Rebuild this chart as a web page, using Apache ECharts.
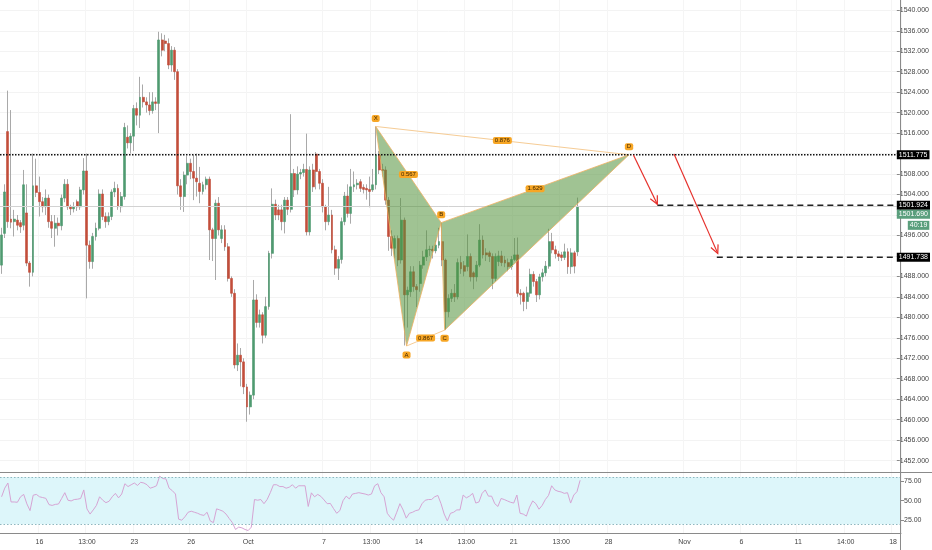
<!DOCTYPE html>
<html><head><meta charset="utf-8">
<script src="https://cdn.jsdelivr.net/npm/echarts@6/dist/echarts.min.js"></script>
<style>html,body{margin:0;padding:0;background:#fff}#c{width:932px;height:550px}</style>
</head><body><div id="c"></div>
<script>
// ---- data (4h candles) ----
const opens=[1490.2,1496.4,1516.3,1499.2,1498.7,1499.0,1498.5,1498.0,1500.4,1490.6,
1488.8,1505.7,1504.4,1502.6,1501.6,1503.3,1498.7,1497.4,1498.4,1497.9,
1503.3,1506.0,1501.6,1501.2,1502.6,1501.6,1504.9,1508.6,1494.1,1490.9,
1495.8,1497.4,1504.1,1499.7,1498.7,1499.7,1504.5,1505.2,1501.6,1503.6,
1515.2,1514.1,1515.4,1520.8,1519.5,1523.0,1522.1,1521.5,1520.4,1522.1,
1521.8,1534.2,1534.0,1533.5,1529.3,1532.2,1528.0,1505.7,1503.6,1507.8,
1510.1,1508.5,1507.2,1506.2,1504.6,1505.9,1507.0,1497.1,1495.4,1502.3,
1495.4,1497.1,1493.8,1487.6,1484.7,1470.7,1472.6,1471.3,1466.4,1462.5,
1464.8,1483.4,1479.0,1480.5,1476.5,1482.1,1492.5,1502.1,1501.0,1501.0,
1498.7,1502.9,1501.1,1508.1,1504.9,1508.0,1508.3,1508.9,1496.7,1508.8,
1511.9,1508.5,1506.2,1501.6,1498.7,1500.0,1493.2,1489.6,1491.3,1498.7,
1503.7,1500.3,1505.5,1505.9,1506.5,1505.4,1505.2,1505.0,1504.9,1505.9,
1511.7,1508.9,1508.8,1502.9,1495.8,1493.5,1495.4,1491.2,1499.0,1484.4,
1485.0,1488.9,1486.0,1486.6,1490.2,1491.8,1493.2,1493.3,1493.0,1494.1,
1494.8,1491.2,1481.1,1483.7,1484.7,1484.0,1490.7,1490.1,1489.9,1491.9,
1488.7,1487.9,1490.2,1495.1,1492.6,1492.6,1491.9,1487.6,1490.9,1492.0,
1491.2,1490.7,1489.9,1491.3,1492.2,1484.7,1484.7,1483.1,1484.7,1488.4,
1487.0,1484.4,1487.9,1488.7,1490.0,1494.8,1493.2,1492.4,1492.2,1491.7,
1492.8,1489.9,1492.6,1492.8];
const closes=[1496.1,1504.5,1498.7,1498.6,1499.2,1498.0,1497.7,1505.9,1490.6,1488.8,
1505.7,1504.4,1502.6,1501.6,1503.3,1498.7,1497.4,1498.4,1497.9,1503.3,
1506.0,1501.6,1501.2,1501.6,1501.6,1504.9,1508.6,1494.1,1490.9,1495.8,
1497.4,1504.1,1499.7,1498.7,1499.7,1504.5,1505.2,1501.6,1503.6,1517.1,
1514.1,1515.4,1520.8,1519.5,1523.0,1522.1,1521.5,1520.4,1522.1,1521.8,
1534.2,1532.2,1533.5,1529.3,1532.2,1528.0,1505.7,1503.6,1507.8,1510.1,
1508.5,1507.2,1506.5,1504.6,1505.9,1507.0,1497.1,1495.4,1502.3,1497.1,
1497.1,1493.8,1487.6,1484.7,1470.7,1472.6,1471.3,1466.4,1462.5,1464.8,
1483.4,1479.0,1480.5,1476.5,1482.1,1492.5,1502.1,1500.0,1500.0,1498.7,
1502.9,1501.1,1508.1,1504.9,1508.0,1508.3,1508.9,1496.7,1508.8,1505.5,
1508.5,1506.2,1501.6,1498.7,1500.0,1493.2,1489.6,1491.3,1498.7,1503.7,
1500.3,1505.5,1505.9,1506.2,1505.2,1505.0,1504.9,1504.6,1505.9,1511.7,
1508.8,1508.7,1502.9,1495.8,1493.5,1495.4,1491.2,1499.0,1484.4,1485.3,
1488.9,1486.0,1485.4,1490.2,1491.8,1493.2,1493.3,1493.0,1494.1,1494.8,
1491.2,1481.1,1483.7,1484.7,1484.0,1490.7,1489.5,1489.0,1491.9,1487.9,
1487.9,1490.2,1495.1,1492.2,1492.2,1491.9,1487.6,1491.9,1492.0,1490.7,
1490.6,1489.9,1491.3,1492.2,1484.7,1484.4,1483.1,1484.8,1488.4,1487.0,
1484.4,1487.9,1488.7,1490.0,1494.8,1493.2,1492.4,1491.9,1491.7,1492.8,
1489.9,1492.6,1490.0,1501.69];
const lows=[1488.5,1495.5,1497.5,1497.4,1495.8,1497.0,1496.5,1497.0,1490.0,1486.0,
1488.0,1503.5,1499.7,1500.5,1500.0,1497.5,1495.5,1493.8,1496.0,1497.0,
1502.5,1501.0,1500.0,1500.5,1500.8,1501.0,1504.0,1483.7,1489.5,1489.5,
1495.0,1497.0,1499.0,1497.5,1498.0,1499.0,1503.5,1501.0,1500.5,1503.0,
1513.0,1512.0,1512.5,1517.5,1517.0,1521.0,1520.0,1519.5,1519.8,1520.5,
1516.0,1531.0,1532.0,1528.5,1528.0,1526.4,1504.0,1501.0,1500.6,1506.0,
1507.0,1502.9,1503.6,1502.3,1504.0,1505.0,1491.2,1491.0,1487.3,1496.0,
1494.5,1493.0,1487.0,1484.0,1470.0,1469.5,1466.5,1465.0,1459.6,1461.0,
1464.0,1478.0,1478.0,1474.9,1476.0,1481.5,1491.5,1499.0,1499.0,1497.0,
1496.4,1500.0,1500.5,1503.5,1504.0,1507.0,1507.5,1496.0,1496.0,1504.5,
1505.0,1505.0,1500.5,1497.0,1498.0,1492.5,1488.3,1487.3,1490.5,1498.0,
1499.5,1498.3,1504.5,1505.0,1504.5,1504.2,1503.0,1501.5,1504.5,1505.0,
1508.0,1507.5,1502.0,1493.0,1492.0,1491.5,1490.0,1490.5,1474.5,1478.0,
1484.0,1485.0,1482.0,1485.0,1489.5,1491.0,1492.0,1491.5,1492.5,1493.5,
1490.0,1477.5,1480.0,1483.0,1483.0,1483.5,1488.5,1488.0,1489.0,1487.0,
1485.5,1487.0,1489.8,1491.5,1491.0,1490.8,1485.5,1487.0,1490.0,1490.0,
1489.8,1489.0,1489.3,1491.0,1484.0,1482.5,1481.2,1481.6,1484.0,1486.0,
1483.0,1483.5,1487.0,1488.0,1489.5,1492.5,1491.5,1491.0,1491.0,1491.2,
1488.5,1488.5,1488.6,1492.0];
const highs=[1497.5,1506.0,1524.3,1520.5,1501.0,1500.0,1499.0,1508.8,1506.0,1491.0,
1512.0,1511.0,1507.5,1503.5,1505.0,1504.0,1500.0,1500.0,1499.5,1504.0,
1507.0,1507.0,1502.0,1502.5,1503.0,1505.5,1511.1,1512.0,1495.0,1496.5,
1498.5,1505.0,1505.0,1500.5,1500.5,1505.0,1506.5,1506.0,1504.5,1518.0,
1517.5,1516.0,1521.5,1522.0,1527.0,1525.5,1523.0,1524.0,1524.0,1523.0,
1535.8,1535.5,1535.2,1534.5,1533.0,1532.8,1528.5,1507.0,1508.5,1511.5,
1511.0,1511.7,1512.0,1509.4,1506.5,1507.5,1507.5,1497.5,1503.0,1503.5,
1498.0,1498.0,1494.5,1488.0,1485.5,1474.9,1474.0,1472.0,1467.0,1465.5,
1487.3,1484.5,1481.5,1481.0,1484.0,1493.0,1505.2,1503.0,1502.0,1502.0,
1503.5,1503.5,1519.7,1509.0,1509.5,1509.0,1510.0,1515.9,1509.5,1510.0,
1512.3,1509.0,1507.0,1502.0,1505.5,1501.0,1494.0,1492.0,1499.5,1504.5,
1506.0,1509.0,1508.5,1507.0,1507.0,1506.0,1506.0,1507.5,1509.0,1517.3,
1512.5,1510.0,1509.5,1503.5,1497.0,1496.0,1496.0,1503.3,1499.5,1486.0,
1490.0,1490.0,1486.5,1491.0,1493.0,1497.0,1494.0,1494.0,1495.0,1497.5,
1498.5,1491.5,1484.5,1485.5,1486.5,1491.5,1492.0,1491.0,1496.2,1492.5,
1489.0,1491.0,1498.2,1496.0,1493.5,1493.0,1492.5,1492.5,1493.0,1493.0,
1492.0,1491.5,1492.0,1495.5,1495.6,1485.5,1485.0,1486.0,1489.5,1489.0,
1487.5,1488.5,1489.5,1491.0,1497.3,1496.5,1494.0,1493.0,1492.8,1494.4,
1493.5,1493.5,1493.0,1503.4];
const rsi=[55,66,72.5,48.4,48.4,48,55,58,46,37.4,
57,58,55,54,53,45,44,45.3,45.8,52.8,
60.2,50.6,49.7,51.5,51.9,52.8,63.7,39.6,33,38.3,
44,55,50.6,47.5,49.3,55,59.3,53.6,58.5,71.6,
68,70.3,72.5,69.4,73.4,72.5,70.3,65.9,67.2,69,
81.2,78.2,77.7,65.9,62.8,58.5,26.5,25.2,29.6,35.3,
36.6,35.3,34,32.2,31.3,35.3,24.3,22.1,39.6,38.3,
36.6,33,27.4,22.1,13.4,16.4,15.5,13.4,12,16.4,
51.5,50.6,51.5,46.2,51.5,60.2,70.3,70.3,68,68,
65.9,67.2,70.3,65.9,69,69,69,42.7,60,55,
58,55.5,51,46.2,46.5,40,34,37.4,50,55.8,
52.3,58.5,59.3,60.2,59.3,58.5,57.2,58.5,69,71.6,
60.2,55,34,28.7,25.2,35.3,46.2,38.3,27.8,34,
35.3,37.4,38.3,46.2,50.6,51.5,51.5,55,56.7,46.2,
33,24.3,34,35.3,38.3,38.3,57.2,53.6,55.8,59.3,
47,48.4,59.3,63.7,55.8,55.8,46.2,42.7,52.8,51.5,
49.7,48,47,57.2,34,33,30.4,41.8,49.7,46.2,
39.2,44,51.5,56.7,69,63.7,62,61.1,59.3,60.2,
47,57.2,61.5,76];

// time axis ticks (slot index -> label)
const tickIdx=[12,27,42,60,78,102,117,132,147,162,177,192,216,234,252,267,282];
const tickText=['16','13:00','23','26','Oct','7','13:00','14','13:00','21','13:00','28','Nov','6','11','14:00','18'];
const slotCount=285;

// harmonic pattern points
const patNames=['X','A','B','C','D'];
const patIdx=[118.9,128.7,139.7,140.8,199.4];
const patPrice=[1517.3,1474.4,1498.5,1477.5,1511.775];
const ratioText=['0.876','0.567','1.629','0.867'];
const ratioPairs=[[0,4],[0,2],[2,4],[1,3]];

// horizontal levels
const levelPrice=[1511.775,1501.924,1491.738];
const levelFrom=[-0.5,208.4,227.3];

// projection arrows
const arrowFrom=[[200.8,1511.73],[213.7,1511.9]];
const arrowTo=[[208.4,1502.1],[227.6,1492.5]];

const lastPrice=1501.69;
const countdown='40:19';

// price-scale tags
const tagPrice=[levelPrice[0],levelPrice[1],lastPrice,lastPrice,levelPrice[2]];
const tagLabel=[levelPrice[0].toFixed(3),levelPrice[1].toFixed(3),lastPrice.toFixed(3),countdown,levelPrice[2].toFixed(3)];

// ---- chart ----
const FONT="'Liberation Sans Narrow','Liberation Sans',Arial,sans-serif";
const xMax=slotCount-0.5;
const cats=Array.from({length:slotCount},(_,i)=>String(i));
const labelMap={}; tickIdx.forEach((t,k)=>labelMap[t]=tickText[k]);
const isTick=(i)=>labelMap[i]!==undefined;
const UP='#4f9a70', DOWN='#c24e3a', WICK='#a9a9a9';
const labelDy=[-8,9,-8,8,-8];
const tagBg=['#000','#000','#5b9f7d','#5b9f7d','#000'];
const tagDx=[0,0,0,11,0];
const tagDy=[0,0,8,19,0];

function tagText(x,y,t){
  return {type:'text',x:x,y:y,z2:20,style:{text:t,fill:'#3d2600',fontSize:6,fontFamily:FONT,
    backgroundColor:'#f7a625',padding:[1,2,0,2],borderRadius:2,align:'center',verticalAlign:'middle'}};
}
function renderPattern(params,api){
  if(params.dataIndex!==0) return null;
  const P=patIdx.map((x,k)=>api.coord([x,patPrice[k]]));
  const fill='rgba(82,146,58,0.55)', edge='#f0b060';
  const ch=[];
  ch.push({type:'polygon',shape:{points:[P[0],P[1],P[2]]},style:{fill:fill,stroke:edge,lineWidth:0.8}});
  ch.push({type:'polygon',shape:{points:[P[2],P[3],P[4]]},style:{fill:fill,stroke:edge,lineWidth:0.8}});
  [[0,4],[1,3]].forEach(([a,b])=>ch.push({type:'line',shape:{x1:P[a][0],y1:P[a][1],x2:P[b][0],y2:P[b][1]},style:{stroke:'#f6cc95',lineWidth:1}}));
  ratioPairs.forEach(([a,b],k)=>ch.push(tagText((P[a][0]+P[b][0])/2,(P[a][1]+P[b][1])/2,ratioText[k])));
  patNames.forEach((n,k)=>ch.push(tagText(P[k][0],P[k][1]+labelDy[k],n)));
  return {type:'group',children:ch};
}
function renderArrow(params,api){
  const a=api.coord([api.value(0),api.value(1)]);
  const b=api.coord([api.value(2),api.value(3)]);
  const ang=Math.atan2(b[1]-a[1],b[0]-a[0]);
  const L=9, w=0.45;
  const h1=[b[0]-L*Math.cos(ang-w),b[1]-L*Math.sin(ang-w)];
  const h2=[b[0]-L*Math.cos(ang+w),b[1]-L*Math.sin(ang+w)];
  const st={stroke:'#e6302b',lineWidth:1.2,fill:null};
  return {type:'group',children:[
    {type:'line',shape:{x1:a[0],y1:a[1],x2:b[0],y2:b[1]},style:st},
    {type:'polyline',shape:{points:[h1,b,h2]},style:st}
  ]};
}
function renderTag(params,api){
  const i=params.dataIndex;
  const c=api.coord([api.value(0),api.value(1)]);
  return {type:'text',x:c[0]+tagDx[i],y:c[1]+tagDy[i],z2:30,
    style:{text:tagLabel[i],fill:'#fff',fontSize:7,fontFamily:FONT,backgroundColor:tagBg[i],
      padding:[1,2,1,2],align:'left',verticalAlign:'middle'}};
}

const levelSeries=levelPrice.map((p,k)=>({
  type:'line',xAxisIndex:1,yAxisIndex:0,symbol:'none',silent:true,z:6,
  data:[[levelFrom[k],p],[xMax,p]],
  lineStyle:k===0?{color:'#111',width:1.6,type:[1.5,1.5]}:{color:'#222',width:1.5,type:[6,4]}
}));

const chart=echarts.init(document.getElementById('c'),null,{renderer:'canvas'});
chart.setOption({
  animation:false,
  backgroundColor:'#fff',
  grid:[
    {left:-1.3,right:31,top:0,height:481.1},
    {left:-1.3,right:31,top:461.4,height:78.6},
    {left:-1.3,right:31,top:0,height:533}
  ],
  xAxis:[
    {type:'category',gridIndex:0,data:cats,boundaryGap:true,show:false},
    {type:'value',gridIndex:0,min:-0.5,max:xMax,show:false,axisLine:{onZero:false}},
    {type:'category',gridIndex:1,data:cats,boundaryGap:true,show:false},
    {type:'category',gridIndex:2,data:cats,boundaryGap:true,position:'bottom',
      axisLine:{onZero:false,lineStyle:{color:'#8a8a8a'}},
      axisTick:{interval:(i)=>isTick(i),alignWithLabel:true,length:3,lineStyle:{color:'#8a8a8a'}},
      axisLabel:{interval:(i)=>isTick(i),formatter:(v)=>labelMap[+v]||'',fontSize:7,fontFamily:FONT,color:'#444',margin:6},
      splitLine:{show:true,interval:(i)=>isTick(i),lineStyle:{color:'#f5f5f5'}}}
  ],
  yAxis:[
    {type:'value',gridIndex:0,position:'right',min:1448,max:1542.01,interval:4,
      axisLine:{show:false,onZero:false},
      axisTick:{show:true,length:3,lineStyle:{color:'#8a8a8a'}},
      axisLabel:{margin:3,fontSize:7,fontFamily:FONT,color:'#444',showMaxLabel:false,showMinLabel:false,
        formatter:(v)=>(v<1450||v>1541)?'':v.toFixed(3)},
      splitLine:{show:true,showMinLine:false,showMaxLine:false,lineStyle:{color:'#f3f3f3'}}},
    {type:'value',gridIndex:1,position:'right',min:0,max:100,interval:25,
      axisLine:{show:false,onZero:false},
      axisTick:{show:true,length:3,lineStyle:{color:'#8a8a8a'}},
      axisLabel:{margin:3,fontSize:7,fontFamily:FONT,color:'#444',showMaxLabel:false,showMinLabel:false,
        formatter:(v)=>(v<=0||v>=100)?'':v.toFixed(2)},
      splitLine:{show:false}},
    {type:'value',gridIndex:2,min:0,max:1,show:false,axisLine:{onZero:false}}
  ],
  graphic:[
    {type:'line',shape:{x1:0,y1:472.5,x2:932,y2:472.5},style:{stroke:'#8a8a8a',lineWidth:1},z:50,silent:true},
    {type:'line',shape:{x1:900.5,y1:0,x2:900.5,y2:550},style:{stroke:'#8a8a8a',lineWidth:1},z:10,silent:true}
  ],
  series:[
    {type:'line',xAxisIndex:2,yAxisIndex:1,data:rsi,symbol:'none',silent:true,z:3,
      lineStyle:{color:'#d6a4d4',width:1},
      markArea:{silent:true,itemStyle:{color:'#ddf6fa'},data:[[{yAxis:20},{yAxis:80}]]},
      markLine:{silent:true,symbol:'none',label:{show:false},lineStyle:{color:'#8fb7bf',width:1,type:[1.5,2]},
        data:[{yAxis:80},{yAxis:20}]}},
    {type:'candlestick',xAxisIndex:0,yAxisIndex:0,barWidth:1,silent:true,z:2,
      data:opens.map((o,i)=>[o,closes[i],lows[i],highs[i]]),
      itemStyle:{color:WICK,color0:WICK,borderColor:WICK,borderColor0:WICK,borderWidth:1},
      markLine:{silent:true,symbol:'none',label:{show:false},lineStyle:{color:'#d2d2d2',width:1,type:'solid'},
        data:[{yAxis:lastPrice}]}},
    {type:'candlestick',xAxisIndex:0,yAxisIndex:0,barWidth:2.4,silent:true,z:3,
      data:opens.map((o,i)=>[o,closes[i],Math.min(o,closes[i]),Math.max(o,closes[i])]),
      itemStyle:{color:UP,color0:DOWN,borderColor:UP,borderColor0:DOWN,borderWidth:0.6}},
    {type:'custom',xAxisIndex:1,yAxisIndex:0,z:5,silent:true,
      data:patIdx.map((x,k)=>[x,patPrice[k]]),encode:{x:0,y:1},renderItem:renderPattern},
    ...levelSeries,
    {type:'custom',xAxisIndex:1,yAxisIndex:0,z:7,silent:true,
      data:arrowFrom.map((f,k)=>[f[0],f[1],arrowTo[k][0],arrowTo[k][1]]),encode:{x:[0,2],y:[1,3]},renderItem:renderArrow},
    {type:'custom',xAxisIndex:1,yAxisIndex:0,z:60,silent:true,clip:false,
      data:tagPrice.map((p)=>[xMax,p]),encode:{x:0,y:1},renderItem:renderTag}
  ]
});
</script></body></html>
